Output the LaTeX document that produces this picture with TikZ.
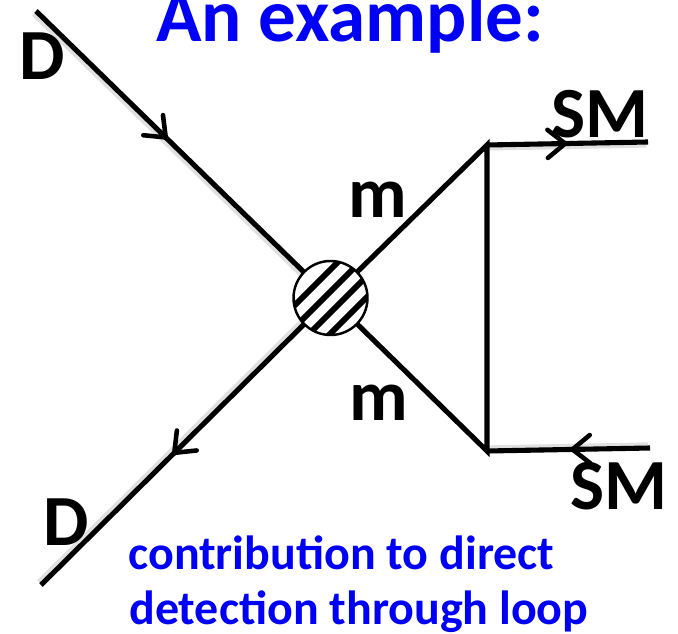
\documentclass[tikz,border=0pt]{standalone}
\usepackage{fontspec}
\setmainfont{Carlito}
\usetikzlibrary{arrows.meta, decorations.markings}
\definecolor{titleblue}{RGB}{0,0,245}

\begin{document}
\begin{tikzpicture}[
    x=0.02cm, y=-0.02cm,
    leg/.style={line width=2.9pt, black, line cap=butt},
    shadowdown/.style={preaction={draw=black!12, line width=3.6pt, transform canvas={xshift=-1pt, yshift=-1.4pt}}},
    shadowup/.style={preaction={draw=black!12, line width=3.6pt, transform canvas={xshift=-1pt, yshift=1.4pt}}},
    flow/.style={leg, postaction={decorate}, decoration={markings,
        mark=at position #1 with {\arrow[line width=2.6pt]{Straight Barb[length=10pt, width=16pt, round]}}}},
    label/.style={font=\bfseries\fontsize{41}{41}\selectfont, text=black, inner sep=0pt},
    caption/.style={font=\bfseries\fontsize{27.3}{27.3}\selectfont, text=titleblue, inner sep=0pt, anchor=base west}
]
\useasboundingbox (0,0) rectangle (678,634);
\clip (0,0) rectangle (678,634);

% Vertices and free ends
\coordinate (dinend) at (36,11);
\coordinate (doutend) at (41,585);
\coordinate (smtopend) at (648,142);
\coordinate (smbotend) at (650,448);
\coordinate (vtop) at (487,145);
\coordinate (vbot) at (487,451);
\node[circle, minimum size=1.46cm, inner sep=0pt] (blob) at (330.5,298) {};

% Legs
\draw[flow=0.49, shadowdown] (dinend) -- (blob);
\draw[flow=0.50, shadowup] (blob) -- (doutend);
\draw[flow=0.50, shadowdown] (vtop) -- (smtopend);
\draw[flow=0.49, shadowup] (smbotend) -- (vbot);
\draw[leg] (blob) -- (vtop) -- (vbot) -- (blob);

% Hatched blob
\begin{scope}
    \clip (blob.center) circle (37);
    \fill[white] (blob.center) circle (37);
    \foreach \s in {600,622,643,664} {
        \draw[line width=3.4pt] (\s-230,230) -- (\s-370,370);
    }
\end{scope}
\draw[line width=1.4pt] (blob.center) circle (37);

% Labels
\node[label] (din) at (42,56) {D};
\node[label] (dout) at (66,522) {D};
\node[label] (mtop) at (378,200) {m};
\node[label] (mbot) at (379,403) {m};
\node[label] (smtop) at (600,114) {SM};
\node[label] (smbot) at (619,486) {SM};
\node[font=\bfseries\fontsize{42.7}{42.7}\selectfont, text=titleblue, inner sep=0pt, anchor=base] (title) at (350,42) {An example:};
\node[caption] (line1) at (128,569.5) {contribution to direct};
\node[caption] (line2) at (129,624) {detection through loop};
\end{tikzpicture}
\end{document}
